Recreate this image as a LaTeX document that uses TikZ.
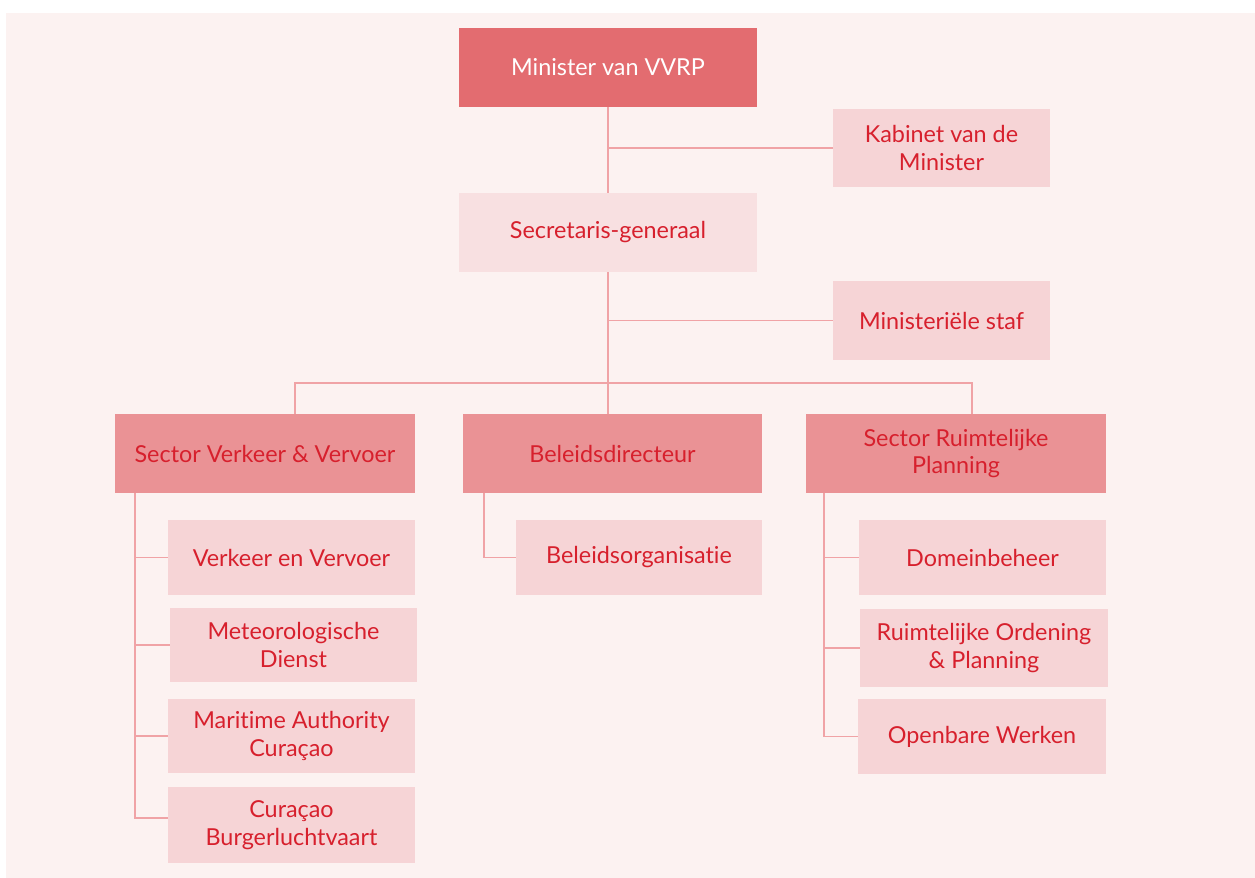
\documentclass[tikz,border=0pt]{standalone}
\usepackage{fontspec}
\setmainfont{Lato}[Ligatures=NoCommon]
\definecolor{bgpink}{HTML}{FCF2F1}
\definecolor{toprose}{HTML}{E36C70}
\definecolor{secrose}{HTML}{EA9295}
\definecolor{lightrose}{HTML}{F6D4D6}
\definecolor{paleRose}{HTML}{F8E0E1}
\definecolor{linkrose}{HTML}{F0A3A6}
\definecolor{textred}{HTML}{D7202D}

\tikzset{box/.style 2 args={rectangle, inner sep=0pt, align=center, text=textred, font=\fontsize{13.3}{15.6}\selectfont, minimum width=#1*0.02cm, minimum height=#2*0.02cm}}
\tikzset{top/.style 2 args={box={#1}{#2}, fill=toprose, text=white}}
\tikzset{sector/.style 2 args={box={#1}{#2}, fill=secrose}}
\tikzset{unit/.style 2 args={box={#1}{#2}, fill=lightrose}}
\tikzset{link/.style={draw=linkrose, line width=0.8pt}}

\begin{document}
\begin{tikzpicture}[x=0.02cm, y=-0.02cm]
    \useasboundingbox (0,0) rectangle (1255,878);
    \fill[bgpink] (6,13) rectangle (1255,878);

    \node[top={298}{79}] (min) at (608,67.5) {Minister van VVRP};
    \node[unit={217}{78}] (kab) at (941.5,148) {Kabinet van de\\Minister};
    \node[box={298}{79}, fill=paleRose] (sec) at (608,232.5) {Secretaris-generaal};
    \node[unit={217}{79}] (staf) at (941.5,320.5) {Ministeriële staf};

    \node[sector={300}{79}] (svv) at (265,453.5) {Sector Verkeer \& Vervoer};
    \node[sector={299}{79}] (bel) at (612.5,453.5) {Beleidsdirecteur};
    \node[sector={300}{79}] (srp) at (956,453.5) {Sector Ruimtelijke\\Planning};

    \node[unit={247}{75}] (vv) at (291.5,557.5) {Verkeer en Vervoer};
    \node[unit={247}{74}] (met) at (293.5,645) {Meteorologische\\Dienst};
    \node[unit={247}{74}] (mar) at (291.5,736) {Maritime Authority\\Curaçao};
    \node[unit={247}{76}] (cbl) at (291.5,825) {Curaçao\\Burgerluchtvaart};

    \node[unit={246}{75}] (org) at (639,557.5) {Beleidsorganisatie};

    \node[unit={247}{75}] (dom) at (982.5,557.5) {Domeinbeheer};
    \node[unit={248}{78}] (rop) at (984,648) {Ruimtelijke Ordening\\\& Planning};
    \node[unit={248}{75}] (ow) at (982,736.5) {Openbare Werken};

    \coordinate (busL) at (295,383);
    \coordinate (busR) at (972,383);
    \coordinate (trunkL) at (135,493);
    \coordinate (trunkM) at (484,493);
    \coordinate (trunkR) at (824,493);

    \draw[link] (min.south) -- (sec.north);
    \draw[link] (kab.west) -- (kab.west -| min.south);
    \draw[link] (sec.south) -- (sec.south |- bel.north);
    \draw[link] (staf.west) -- (staf.west -| sec.south);
    \draw[link] (busL |- svv.north) -- (busL) -- (busR) -- (busR |- srp.north);

    \draw[link] (trunkL) |- ([yshift=0.14cm]cbl.west);
    \draw[link] (trunkL |- vv.west) -- (vv.west);
    \draw[link] (trunkL |- met.west) -- (met.west);
    \draw[link] (trunkL |- mar.west) -- (mar.west);

    \draw[link] (trunkM) |- (org.west);

    \draw[link] (trunkR) |- (ow.west);
    \draw[link] (trunkR |- dom.west) -- (dom.west);
    \draw[link] (trunkR |- rop.west) -- (rop.west);
\end{tikzpicture}
\end{document}
